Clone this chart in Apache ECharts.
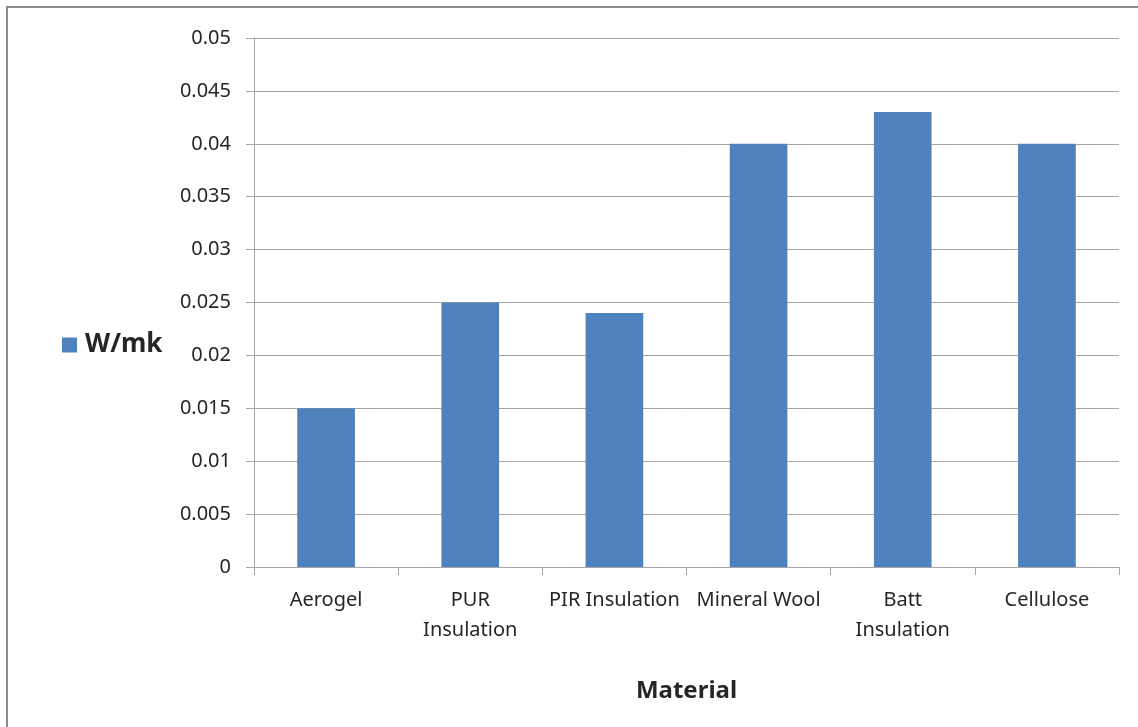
<!DOCTYPE html>
<html>
<head>
<meta charset="utf-8">
<script src="https://cdn.jsdelivr.net/npm/echarts@6/dist/echarts.min.js"></script>
<style>
  html, body { margin: 0; padding: 0; background: #fff; }
  #chart { width: 1138px; height: 727px; }
</style>
</head>
<body>
<div id="chart"></div>
<script>
// Thermal conductivity of common insulation materials
const materials = ['Aerogel', 'PUR\nInsulation', 'PIR Insulation', 'Mineral Wool', 'Batt\nInsulation', 'Cellulose'];
const conductivity = [0.015, 0.025, 0.024, 0.04, 0.043, 0.04];
const seriesName = 'W/mk';
const xTitle = 'Material';

const FONT = '"Noto Sans", "Open Sans", sans-serif';
const TEXT = '#262626';
const GRID = '#A6A6A6';

const chart = echarts.init(document.getElementById('chart'));
chart.setOption({
  animation: false,
  textStyle: { fontFamily: FONT },
  graphic: [{
    type: 'rect',
    shape: { x: 7, y: 7, width: 1160, height: 760 },
    style: { fill: 'none', stroke: '#8C8C8C', lineWidth: 2 },
    silent: true
  }],
  legend: {
    left: 57, top: 327,
    orient: 'vertical',
    icon: 'rect',
    itemWidth: 15, itemHeight: 15, itemGap: 8,
    textStyle: { fontFamily: FONT, fontSize: 26, fontWeight: 'bold', color: TEXT, padding: [0, 0, 0, 3] },
    data: [seriesName]
  },
  grid: { left: 254, right: 19, top: 38, bottom: 160 },
  xAxis: {
    type: 'category',
    data: materials,
    name: xTitle,
    nameLocation: 'middle',
    nameGap: 112,
    nameTextStyle: { fontFamily: FONT, fontSize: 24, fontWeight: 'bold', color: TEXT },
    axisLine: { lineStyle: { color: GRID, width: 1 } },
    axisTick: { show: true, length: 8, lineStyle: { color: GRID } },
    axisLabel: {
      interval: 0, margin: 18, fontSize: 20, color: TEXT, lineHeight: 30,
      fontFamily: FONT
    }
  },
  yAxis: {
    type: 'value',
    min: 0, max: 0.05, interval: 0.005,
    axisLine: { show: true, lineStyle: { color: GRID, width: 1 } },
    axisTick: { show: true, length: 8, lineStyle: { color: GRID } },
    splitLine: { lineStyle: { color: GRID, width: 1 } },
    axisLabel: {
      margin: 23, fontSize: 20, color: TEXT, fontFamily: FONT,
      formatter: v => String(parseFloat(v.toFixed(3)))
    }
  },
  series: [{
    name: seriesName,
    type: 'bar',
    data: conductivity,
    barWidth: '40%',
    itemStyle: { color: '#4F81BD' }
  }]
});
</script>
</body>
</html>
